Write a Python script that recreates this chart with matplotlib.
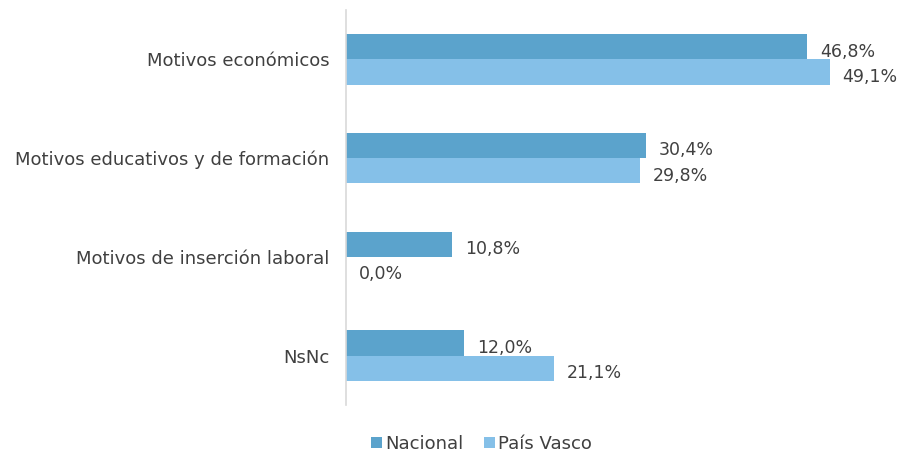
import numpy as np
import matplotlib.pyplot as plt

categories = ['Motivos económicos', 'Motivos educativos y de formación',
              'Motivos de inserción laboral', 'NsNc']
nacional = [46.8, 30.4, 10.8, 12.0]
pais_vasco = [49.1, 29.8, 0.0, 21.1]
series_names = ['Nacional', 'País Vasco']

c_nac = '#5BA3CC'
c_pv = '#85C0E8'
txt = '#404040'

plt.rcParams['font.family'] = ['DejaVu Sans']
fs = 13

fig = plt.figure(figsize=(8.97, 4.54), dpi=100)
ax = fig.add_axes([346 / 897, 1 - 405 / 454, 542 / 897, 395 / 454])

y = np.arange(len(categories))
h = 0.255
ax.barh(y - h / 2, nacional, height=h, color=c_nac, label=series_names[0])
ax.barh(y + h / 2, pais_vasco, height=h, color=c_pv, label=series_names[1])

# value labels to the right of each bar
for i in range(len(categories)):
    ax.text(nacional[i] + 1.3, y[i] - h / 2 + 0.05, f'{nacional[i]:.1f}%'.replace('.', ','),
            va='center', ha='left', fontsize=12.5, color=txt)
    ax.text(pais_vasco[i] + 1.3, y[i] + h / 2 + 0.05, f'{pais_vasco[i]:.1f}%'.replace('.', ','),
            va='center', ha='left', fontsize=12.5, color=txt)

ax.set_xlim(0, 55)
ax.set_ylim(3.5, -0.5)
ax.set_yticks(y)
ax.set_yticklabels(categories, fontsize=fs, color=txt)
ax.tick_params(axis='y', length=0, pad=12)
ax.set_xticks([])
for s in ['top', 'right', 'bottom']:
    ax.spines[s].set_visible(False)
ax.spines['left'].set_color('#d9d9d9')
ax.spines['left'].set_linewidth(1.2)

leg = fig.legend(loc='center', bbox_to_anchor=(0.537, 1 - 444 / 454), ncol=2, frameon=False,
                 fontsize=fs, handlelength=0.6, handleheight=0.6, handletextpad=0.2,
                 columnspacing=1.1)
for t in leg.get_texts():
    t.set_color(txt)

fig.savefig('out.png', dpi=100)
